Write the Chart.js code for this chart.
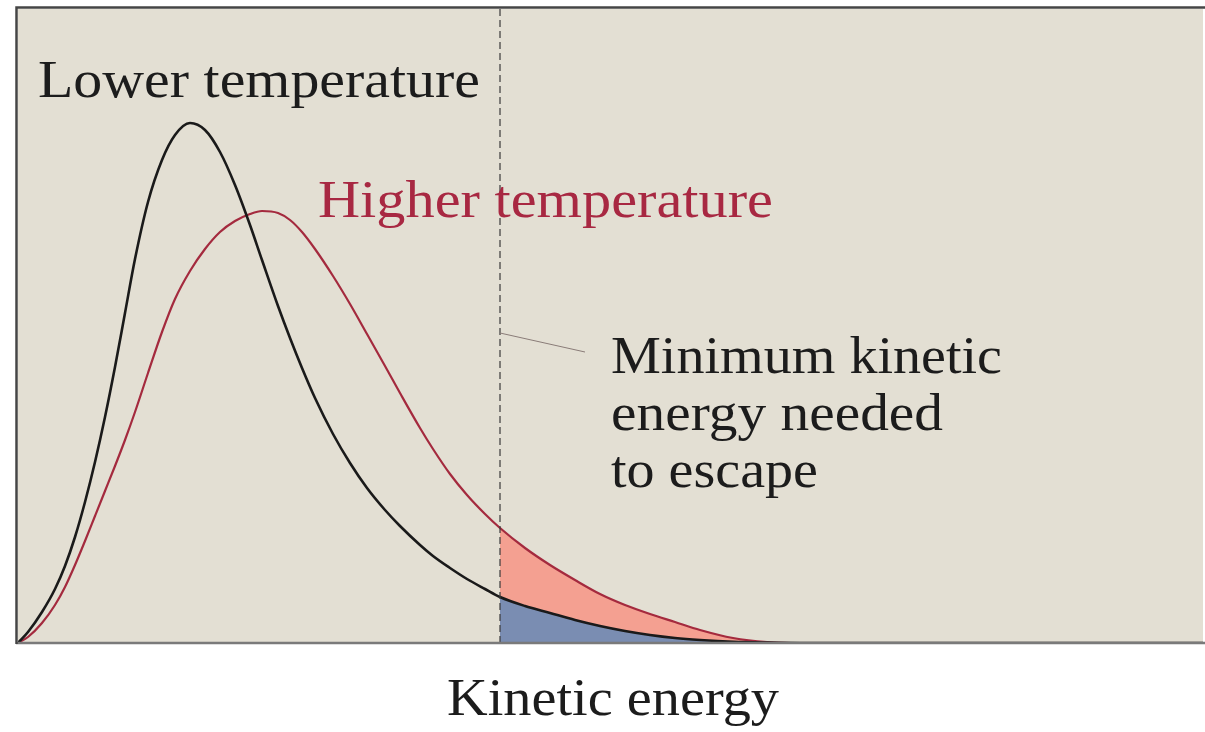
<!DOCTYPE html>
<html>
<head>
<meta charset="utf-8">
<script src="https://cdn.jsdelivr.net/npm/chart.js@4/dist/chart.umd.min.js"></script>
<style>
html,body{margin:0;padding:0;background:#ffffff;}
#c{display:block;}
</style>
</head>
<body>
<canvas id="c" width="1205" height="732"></canvas>
<script>
// Kinetic energy (arbitrary units, shared by both curves)
const energy = [0,10,24,37,47,57,67,77,87,97,107,117,130,144,157,172,187,202,217,232,244,260,272,284,297,315,332,349,367,382,402,415,432,449,467,482,507,532,557,582,607,632,657,682,715,749,782,882,982,1082,1185];
// Fraction of molecules (arbitrary units)
const lowerT = [0,11,31,54,77,106,141,181,226,276,330,384,441,483,508,520,513,491,458,418,383,337,305,275,245,209,180,155,133,117,98,87,75,64,54,46,37,30,23,17,12,8,5,3,1.2,0.4,0,0,0,0,0];
const higherT = [0,6,20,38,56,78,102,127,152,177,203,231,270,311,344,372,394,411,422,429,432,430,423,411,394,367,339,309,277,250,215,194,169,148,129,115,95,78,63,49,38,29,21,13,5,1,0,0,0,0,0];
const escapeEnergy = 482;
const seriesLabels = ['Lower temperature', 'Higher temperature'];
const annotationLines = ['Minimum kinetic', 'energy needed', 'to escape'];
const axisTitle = 'Kinetic energy';

const pts = ys => energy.map((x, i) => ({x: x, y: ys[i]}));
const escPts = ys => energy.map((x, i) => ({x: x, y: ys[i]})).filter(p => p.x >= escapeEnergy);

const SERIF = '"Liberation Serif", "DejaVu Serif", serif';

function drawStretched(ctx, text, x, baseline, width, size, color) {
  ctx.save();
  ctx.font = size + 'px ' + SERIF;
  const w = ctx.measureText(text).width;
  const s = width / w;
  ctx.translate(x, baseline);
  ctx.scale(s, 1);
  ctx.fillStyle = color;
  ctx.textBaseline = 'alphabetic';
  ctx.textAlign = 'left';
  ctx.fillText(text, 0, 0);
  ctx.restore();
}

const decor = {
  id: 'decor',
  beforeDraw(chart) {
    const {ctx, chartArea: a} = chart;
    ctx.save();
    ctx.fillStyle = '#ffffff';
    ctx.fillRect(0, 0, chart.width, chart.height);
    ctx.fillStyle = '#e3dfd3';
    ctx.fillRect(a.left, a.top, a.right - a.left, a.bottom - a.top);
    ctx.restore();
  },
  afterDatasetsDraw(chart) {
    const {ctx, chartArea: a, scales: {x, y}} = chart;
    const ex = x.getPixelForValue(escapeEnergy);
    ctx.save();
    // dashed threshold line
    ctx.strokeStyle = '#3a3a3a';
    ctx.lineWidth = 1.2;
    ctx.setLineDash([7, 4]);
    ctx.beginPath();
    ctx.moveTo(ex, a.top);
    ctx.lineTo(ex, a.bottom);
    ctx.stroke();
    ctx.setLineDash([]);
    // leader line
    ctx.strokeStyle = '#8a7c78';
    ctx.lineWidth = 1;
    ctx.beginPath();
    ctx.moveTo(ex, 333);
    ctx.lineTo(ex + 85, 352);
    ctx.stroke();
    // frame
    ctx.lineWidth = 2.5;
    ctx.strokeStyle = '#7a7a7a';
    ctx.beginPath();
    ctx.moveTo(a.left - 2, a.bottom);
    ctx.lineTo(a.right + 2, a.bottom);
    ctx.stroke();
    ctx.strokeStyle = '#454545';
    ctx.beginPath();
    ctx.moveTo(a.left - 1.5, a.bottom + 1);
    ctx.lineTo(a.left - 1.5, a.top - 1.5);
    ctx.lineTo(a.right + 2, a.top - 1.5);
    ctx.stroke();
    ctx.restore();
    // texts
    drawStretched(ctx, seriesLabels[0], 38, 97, 442, 52, '#1c1c1c');
    drawStretched(ctx, seriesLabels[1], 318, 217, 455, 52, '#a82842');
    drawStretched(ctx, annotationLines[0], 611, 373, 391, 52, '#1c1c1c');
    drawStretched(ctx, annotationLines[1], 611, 430, 332, 52, '#1c1c1c');
    drawStretched(ctx, annotationLines[2], 611, 487, 207, 52, '#1c1c1c');
    drawStretched(ctx, axisTitle, 447, 715, 332, 52, '#1c1c1c');
  }
};

new Chart(document.getElementById('c'), {
  type: 'line',
  data: {
    datasets: [
      {
        label: seriesLabels[0],
        data: pts(lowerT),
        borderColor: '#1a1a1a',
        borderWidth: 2.6,
        pointRadius: 0,
        fill: false,
        cubicInterpolationMode: 'monotone',
        order: 0
      },
      {
        label: seriesLabels[1],
        data: pts(higherT),
        borderColor: '#a42a3e',
        borderWidth: 2.2,
        pointRadius: 0,
        fill: false,
        cubicInterpolationMode: 'monotone',
        order: 1
      },
      {
        label: 'escape-lower',
        data: escPts(lowerT),
        borderWidth: 0,
        borderColor: 'rgba(0,0,0,0)',
        backgroundColor: '#7a8db2',
        pointRadius: 0,
        fill: 'origin',
        cubicInterpolationMode: 'monotone',
        order: 3
      },
      {
        label: 'escape-higher',
        data: escPts(higherT),
        borderWidth: 0,
        borderColor: 'rgba(0,0,0,0)',
        backgroundColor: '#f4a091',
        pointRadius: 0,
        fill: '-1',
        cubicInterpolationMode: 'monotone',
        order: 2
      }
    ]
  },
  options: {
    responsive: false,
    devicePixelRatio: 1,
    animation: false,
    layout: {padding: {left: 18, right: 2, top: 9, bottom: 89}},
    plugins: {legend: {display: false}, tooltip: {enabled: false}},
    scales: {
      x: {type: 'linear', min: 0, max: 1185, display: false},
      y: {type: 'linear', min: 0, max: 634, display: false}
    }
  },
  plugins: [decor]
});
</script>
</body>
</html>
